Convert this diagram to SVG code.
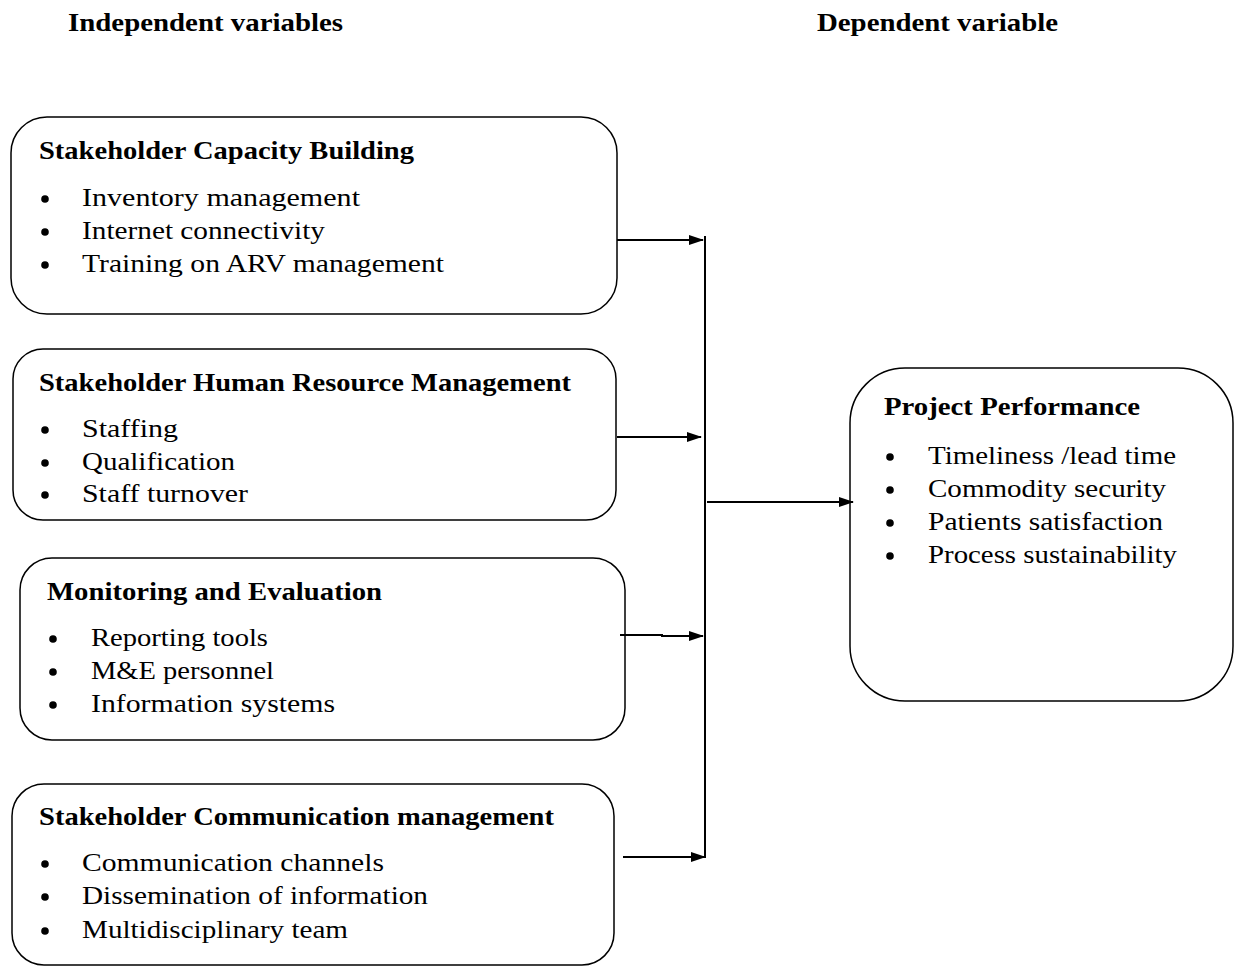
<svg xmlns="http://www.w3.org/2000/svg" width="1235" height="966" viewBox="0 0 1235 966">
<style>
text{font-family:"Liberation Serif","Times New Roman",serif;fill:#000}
.h{font-weight:bold;font-size:25px}
.t{font-weight:bold;font-size:25px}
.i{font-size:26px}
.box{fill:#fff;stroke:#000;stroke-width:1.5}
.c{fill:none;stroke:#000;stroke-width:2}
</style>
<defs>
<marker id="ah" markerWidth="15" markerHeight="10" refX="14" refY="5" orient="auto" markerUnits="userSpaceOnUse">
<path d="M0,0 L15,5 L0,10 Z" fill="#000"/>
</marker>
</defs>
<rect width="1235" height="966" fill="#fff"/>
<text class="h" x="68" y="31" textLength="275" lengthAdjust="spacingAndGlyphs">Independent variables</text>
<text class="h" x="817" y="31" textLength="241" lengthAdjust="spacingAndGlyphs">Dependent variable</text>

<g id="n1">
<rect class="box" x="11" y="117" width="606" height="197" rx="36"/>
<text class="t" x="39" y="159" textLength="375" lengthAdjust="spacingAndGlyphs">Stakeholder Capacity Building</text>
<circle cx="45" cy="199" r="3.8"/><circle cx="45" cy="232" r="3.8"/><circle cx="45" cy="265" r="3.8"/>
<text class="i" x="82" y="206" textLength="278" lengthAdjust="spacingAndGlyphs">Inventory management</text>
<text class="i" x="82" y="239" textLength="243" lengthAdjust="spacingAndGlyphs">Internet connectivity</text>
<text class="i" x="82" y="272" textLength="362" lengthAdjust="spacingAndGlyphs">Training on ARV management</text>
</g>
<g id="n2">
<rect class="box" x="13" y="349" width="603" height="171" rx="30"/>
<text class="t" x="39" y="391" textLength="532" lengthAdjust="spacingAndGlyphs">Stakeholder Human Resource Management</text>
<circle cx="45" cy="430" r="3.8"/><circle cx="45" cy="463" r="3.8"/><circle cx="45" cy="495" r="3.8"/>
<text class="i" x="82" y="437" textLength="96" lengthAdjust="spacingAndGlyphs">Staffing</text>
<text class="i" x="82" y="470" textLength="153" lengthAdjust="spacingAndGlyphs">Qualification</text>
<text class="i" x="82" y="502" textLength="166" lengthAdjust="spacingAndGlyphs">Staff turnover</text>
</g>
<g id="n3">
<rect class="box" x="20" y="558" width="605" height="182" rx="32"/>
<text class="t" x="47" y="600" textLength="335" lengthAdjust="spacingAndGlyphs">Monitoring and Evaluation</text>
<circle cx="53" cy="639" r="3.8"/><circle cx="53" cy="672" r="3.8"/><circle cx="53" cy="705" r="3.8"/>
<text class="i" x="91" y="646" textLength="177" lengthAdjust="spacingAndGlyphs">Reporting tools</text>
<text class="i" x="91" y="679" textLength="183" lengthAdjust="spacingAndGlyphs">M&amp;E personnel</text>
<text class="i" x="91" y="712" textLength="244" lengthAdjust="spacingAndGlyphs">Information systems</text>
</g>
<g id="n4">
<rect class="box" x="12" y="784" width="602" height="181" rx="32"/>
<text class="t" x="39" y="825" textLength="515" lengthAdjust="spacingAndGlyphs">Stakeholder Communication management</text>
<circle cx="45" cy="864" r="3.8"/><circle cx="45" cy="897" r="3.8"/><circle cx="45" cy="931" r="3.8"/>
<text class="i" x="82" y="871" textLength="302" lengthAdjust="spacingAndGlyphs">Communication channels</text>
<text class="i" x="82" y="904" textLength="346" lengthAdjust="spacingAndGlyphs">Dissemination of information</text>
<text class="i" x="82" y="938" textLength="266" lengthAdjust="spacingAndGlyphs">Multidisciplinary team</text>
</g>
<g id="n5">
<rect class="box" x="850" y="368" width="383" height="333" rx="55"/>
<text class="t" x="884" y="415" textLength="256" lengthAdjust="spacingAndGlyphs">Project Performance</text>
<circle cx="890" cy="457" r="3.8"/><circle cx="890" cy="490" r="3.8"/><circle cx="890" cy="523" r="3.8"/><circle cx="890" cy="556" r="3.8"/>
<text class="i" x="928" y="464" textLength="248" lengthAdjust="spacingAndGlyphs">Timeliness /lead time</text>
<text class="i" x="928" y="497" textLength="238" lengthAdjust="spacingAndGlyphs">Commodity security</text>
<text class="i" x="928" y="530" textLength="235" lengthAdjust="spacingAndGlyphs">Patients satisfaction</text>
<text class="i" x="928" y="563" textLength="249" lengthAdjust="spacingAndGlyphs">Process sustainability</text>
</g>
<g id="connectors">
<line class="c" x1="705" y1="236" x2="705" y2="858"/>
<line class="c" x1="617" y1="240" x2="703" y2="240" marker-end="url(#ah)"/>
<line class="c" x1="617" y1="437" x2="701" y2="437" marker-end="url(#ah)"/>
<polyline class="c" points="620,635 662,635 662,636 703,636" marker-end="url(#ah)"/>
<line class="c" x1="623" y1="857" x2="705" y2="857" marker-end="url(#ah)"/>
<line class="c" x1="707" y1="502" x2="853" y2="502" marker-end="url(#ah)"/>
</g>
</svg>
